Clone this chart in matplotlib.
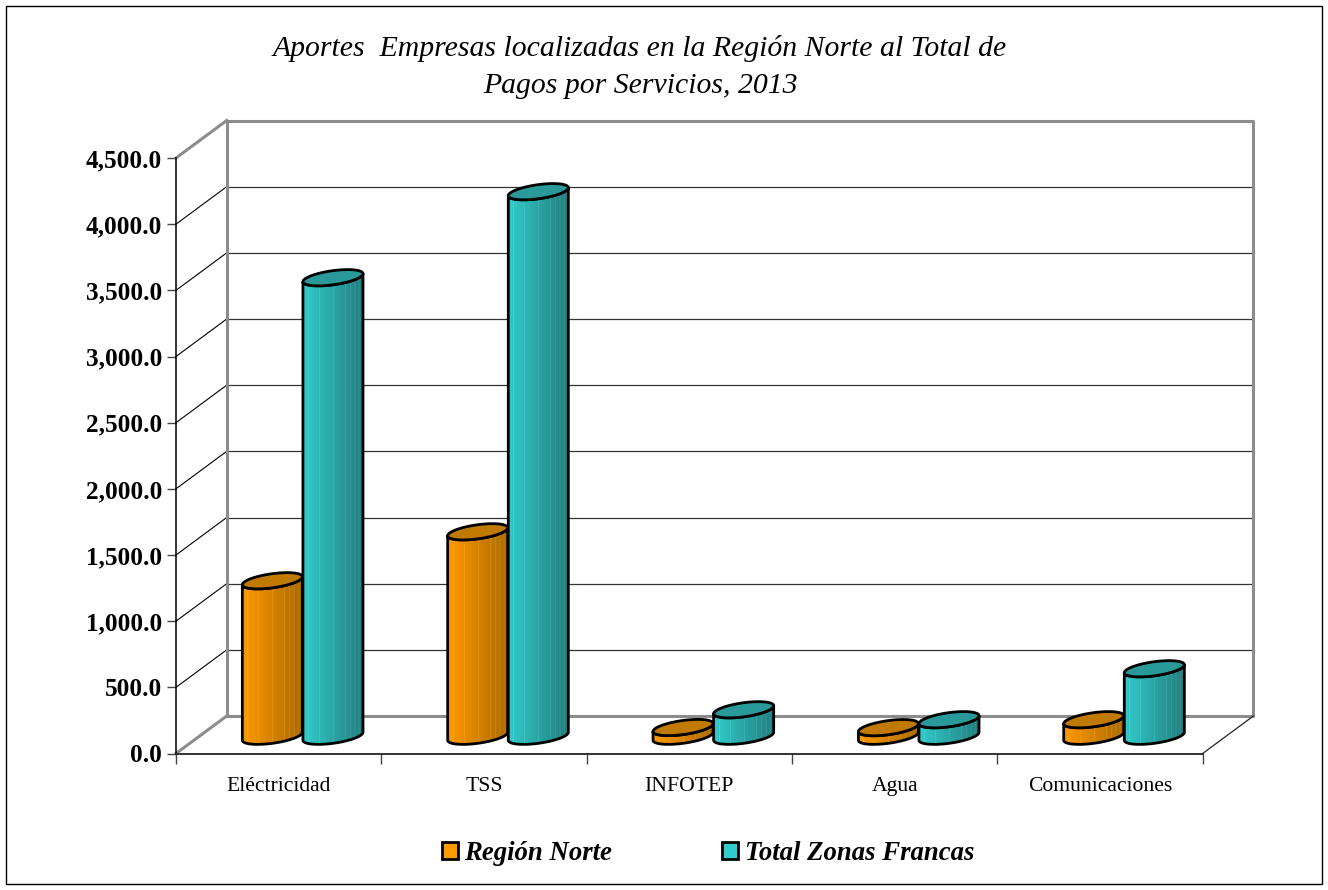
import numpy as np
import matplotlib
matplotlib.use("Agg")
import matplotlib.pyplot as plt
from matplotlib.patches import Patch, Polygon, Rectangle
from matplotlib.colors import to_rgb

# Data
categories = ["Eléctricidad", "TSS", "INFOTEP", "Agua", "Comunicaciones"]
region_norte = [1175, 1545, 66, 65, 125]
total_zonas = [3465, 4115, 200, 125, 510]
y_ticks = [0, 500, 1000, 1500, 2000, 2500, 3000, 3500, 4000, 4500]
title_lines = ["Aportes  Empresas localizadas en la Región Norte al Total de",
               "Pagos por Servicios, 2013"]

WIDTH, HEIGHT = 1328, 890
plt.rcParams["font.family"] = ["Liberation Serif", "DejaVu Serif"]

fig = plt.figure(figsize=(WIDTH / 100, HEIGHT / 100), dpi=100)
ax = fig.add_axes([176 / WIDTH, 1 - 753.5 / HEIGHT, 1026.7 / WIDTH, 595.5 / HEIGHT])
ax.set_xlim(0, len(categories))
ax.set_ylim(0, y_ticks[-1])
ax.patch.set_visible(False)

# scale of the axes, pixels per unit
sx = 1026.7 / len(categories)
sy = 595.5 / y_ticks[-1]
depth_x = 50.7 / sx
depth_y = 37.5 / sy
GREY = "#8c8c8c"

# outer frame
fig.add_artist(Rectangle((6 / WIDTH, 1 - 884 / HEIGHT), 1316 / WIDTH, 878 / HEIGHT,
                         transform=fig.transFigure, fill=False, ec="black", lw=1.0))

# walls and grid
xmax = len(categories)
for v in y_ticks[1:-1]:
    ax.plot([0, depth_x], [v, v + depth_y], color="black", lw=0.8, clip_on=False, zorder=1)
    ax.plot([depth_x, xmax + depth_x], [v + depth_y, v + depth_y], color="#333333", lw=0.9,
            clip_on=False, zorder=1)
wall_x = [depth_x, depth_x, xmax + depth_x, xmax + depth_x, depth_x]
wall_y = [depth_y, y_ticks[-1] + depth_y, y_ticks[-1] + depth_y, depth_y, depth_y]
ax.plot(wall_x, wall_y, color=GREY, lw=2.2, clip_on=False, zorder=2)
ax.plot([0, depth_x], [y_ticks[-1], y_ticks[-1] + depth_y], color=GREY, lw=2.2, clip_on=False, zorder=2)
ax.plot([0, depth_x], [0, depth_y], color=GREY, lw=2.2, clip_on=False, zorder=2)
ax.plot([xmax, xmax + depth_x], [0, depth_y], color="#222222", lw=0.9, clip_on=False, zorder=2)

STRIPES = [0.09, 0.27, 0.50, 0.70, 0.78, 0.85, 0.92]


def side_gradient(light, dark):
    light = np.array(to_rgb(light))
    dark = np.array(to_rgb(dark))
    n = 180
    frac = np.linspace(0, 1, n)[:, None]
    col = light + (dark - light) * frac
    for s in STRIPES:
        i = int(s * n)
        col[i] = np.minimum(col[i] + 0.16, 1)
    return col[None, :, :]


def cylinder(center, value, light, dark, top, z):
    """Draw one cylinder standing on the middle of the floor."""
    a, b, theta = 30.3, 7.0, np.radians(8)
    base = depth_y * 0.46

    def ellipse(t, level):
        x = a * np.cos(t) * np.cos(theta) - b * np.sin(t) * np.sin(theta)
        y = a * np.cos(t) * np.sin(theta) + b * np.sin(t) * np.cos(theta)
        return center + x / sx, level + y / sy

    t_r = np.arctan(-(b / a) * np.tan(theta))
    arc = np.linspace(t_r, t_r - np.pi, 80)
    bx, by = ellipse(arc, base)
    tx, ty = ellipse(arc[::-1], base + value)
    pts = np.column_stack([np.r_[bx, tx], np.r_[by, ty]])

    side = Polygon(pts, closed=True, transform=ax.transData, fc="none", ec="black", lw=2.0,
                   joinstyle="round", zorder=z + 0.2)
    ax.add_patch(side)
    im = ax.imshow(side_gradient(light, dark), extent=[bx.min(), bx.max(), by.min(), ty.max()],
                   aspect="auto", interpolation="bilinear", zorder=z)
    im.set_clip_path(side)

    full = np.linspace(0, 2 * np.pi, 120)
    ex, ey = ellipse(full, base + value)
    ax.fill(ex, ey, fc=top, ec="black", lw=2.0, zorder=z + 0.3)


for i in range(len(categories)):
    group = i + 0.5 + 24 / sx
    cylinder(group - 30.3 / sx, region_norte[i], "#ff9900", "#a86a00", "#c07a00", 3 + 2 * i)
    cylinder(group + 30.3 / sx, total_zonas[i], "#33cccc", "#237c7c", "#2a9999", 4 + 2 * i)

ax.set_xlim(0, len(categories))
ax.set_ylim(0, y_ticks[-1])

# axes
for side_name in ["top", "right"]:
    ax.spines[side_name].set_visible(False)
ax.spines["left"].set_linewidth(1.1)
ax.spines["bottom"].set_linewidth(1.3)
ax.spines["bottom"].set_color("#222222")
ax.spines["left"].set_zorder(2.5)
ax.set_yticks(y_ticks)
ax.set_yticklabels([f"{v:,.1f}" for v in y_ticks], fontsize=18.2, fontweight="bold")
ax.tick_params(axis="y", length=6.5, width=1, color="#444444", pad=3.5)
ax.set_xticks(range(len(categories) + 1))
ax.set_xticklabels([])
ax.set_xticks(np.arange(len(categories)) + 0.5, minor=True)
ax.set_xticklabels(categories, minor=True, fontsize=15.6)
ax.tick_params(axis="x", which="minor", length=0, pad=17)
ax.tick_params(axis="x", which="major", length=7, width=1, color="#444444")

# title
fig.text(640 / WIDTH, 1 - 48 / HEIGHT, title_lines[0], ha="center", va="center",
         fontsize=21.4, fontstyle="italic")
fig.text(640 / WIDTH, 1 - 86 / HEIGHT, title_lines[1], ha="center", va="center",
         fontsize=21.4, fontstyle="italic")

# legend
handles = [Patch(fc="#ff9900", ec="black", lw=2.0, label="Región Norte"),
           Patch(fc="#33cccc", ec="black", lw=2.0, label="Total Zonas Francas")]
fig.legend(handles=handles, ncol=2, frameon=False, loc="center",
           bbox_to_anchor=(708 / WIDTH, 1 - 853 / HEIGHT),
           prop={"size": 19.3, "weight": "bold", "style": "italic"},
           handlelength=0.6, handleheight=0.6, handletextpad=0.25, columnspacing=4.1)

fig.savefig("out.png", dpi=100)
